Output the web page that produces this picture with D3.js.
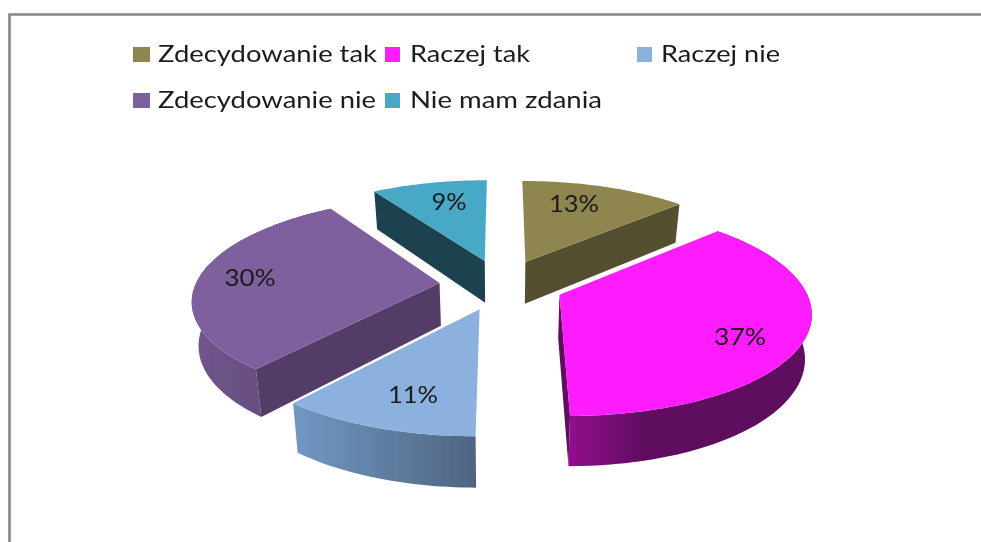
<!DOCTYPE html>
<html lang="pl">
<head>
<meta charset="utf-8">
<title>Wykres kołowy</title>
<script src="https://cdn.jsdelivr.net/npm/d3@7/dist/d3.min.js"></script>
<style>
  html, body { margin: 0; padding: 0; background: #fff; }
  svg { display: block; }
  text { font-family: Lato, "Open Sans", sans-serif; fill: #1a1a1a; }
</style>
</head>
<body>
<div id="chart"></div>
<script>
// --- data ---
const categories = ["Zdecydowanie tak", "Raczej tak", "Raczej nie", "Zdecydowanie nie", "Nie mam zdania"];
const shares = [13, 37, 11, 30, 9];

// --- styles ---
const topColors = ["#8F8550", "#FF1CFF", "#8CB1DF", "#7F619E", "#47A9C5"];
const cutColors = ["#555030", "#5E075E", "#4F6480", "#523E66", "#1E4350"];
const wallStops = [null, ["#92108F", "#5E075E"], ["#7199C4", "#4F6480"], ["#70558C", "#5E4876"], null];
const wallSpan = [1, 0.32, 1, 1, 1];               // share of the wall's width the gradient covers
const visibleCut = [1, 1, null, 0, 0];             // which cut face the viewer sees: 0 start, 1 end
const legendPos = [[133, 158, 219, 47, 62], [385, 410, 120, 47, 62], [637, 661, 119, 47, 62],
                   [133, 158, 218, 93, 108], [385, 410, 192, 93, 108]];
const labelPos = [[574, 212, 50], [740, 345, 52], [413, 403, 50], [250, 286, 51], [449, 210, 35]];
const drawOrder = [4, 0, 1, 2, 3];

// --- projection of the tilted pie ---
const W = 981, H = 542;
const persp = 0.151, explode = 0.255;
const xScale = d3.scaleLinear().domain([0, 1]).range([501.5, 745.5]);
const yScale = d3.scaleLinear().domain([0, 1]).range([284.5, 185]);
const bottomX = d3.scaleLinear().domain([501.5, 1501.5]).range([501.5, 1479.5]);
const bottomY = d3.scaleLinear().domain([284.5, 1284.5]).range([327.5, 1382.5]);

const project = (X, Y) => {
  const w = 1 + persp * Y;
  return [xScale(X / w), yScale(Y / w)];
};
const lower = p => [bottomX(p[0]), bottomY(p[1])];

const svg = d3.select("#chart").append("svg").attr("width", W).attr("height", H).attr("viewBox", [0, 0, W, H]);
const defs = svg.append("defs");
const line = d3.line();

defs.append("filter").attr("id", "soft").attr("x", "-5%").attr("y", "-5%").attr("width", "110%").attr("height", "110%")
  .append("feGaussianBlur").attr("stdDeviation", 0.45);

// frame
svg.append("path").attr("d", `M9.5 ${H}V14.5H${W}`).attr("fill", "none").attr("stroke", "#868686").attr("stroke-width", 2.6);

const content = svg.append("g").attr("filter", "url(#soft)");

// legend
const legend = content.append("g");
categories.forEach((c, i) => {
  const [sx, tx, tw, sy, by] = legendPos[i];
  legend.append("rect").attr("x", sx).attr("y", sy).attr("width", i % 5 === 0 || i === 3 ? 17 : 15).attr("height", 15)
    .attr("fill", topColors[i]);
  legend.append("text").attr("x", tx).attr("y", by).attr("font-size", 23)
    .attr("textLength", tw).attr("lengthAdjust", "spacingAndGlyphs").text(c);
});

// slices
const arcs = d3.pie().sort(null).startAngle(0).endAngle(2 * Math.PI)(shares);
const pieG = content.append("g");

drawOrder.forEach(i => {
  const a = arcs[i];
  const mid = (a.startAngle + a.endAngle) / 2;
  const ax = explode * Math.sin(mid), ay = explode * Math.cos(mid);
  const apex = project(ax, ay);
  const n = Math.max(12, Math.round((a.endAngle - a.startAngle) * 40));
  const rim = d3.range(n + 1).map(k => {
    const t = a.startAngle + (a.endAngle - a.startAngle) * k / n;
    return project(ax + Math.sin(t), ay + Math.cos(t));
  });
  const rimLow = rim.map(lower);
  const g = pieG.append("g");

  // visible cut face
  if (visibleCut[i] !== null) {
    const p = visibleCut[i] === 0 ? rim[0] : rim[n];
    g.append("path").attr("d", line([apex, p, lower(p), lower(apex)]) + "Z").attr("fill", cutColors[i]);
  }

  // outer wall (only on the slices that face the viewer)
  if (wallStops[i]) {
    const xs = d3.extent(rim.concat(rimLow), p => p[0]);
    const gid = "wall" + i;
    const grad = defs.append("linearGradient").attr("id", gid).attr("gradientUnits", "userSpaceOnUse")
      .attr("x1", xs[0]).attr("x2", xs[0] + (xs[1] - xs[0]) * wallSpan[i]).attr("y1", 0).attr("y2", 0);
    grad.append("stop").attr("offset", 0).attr("stop-color", wallStops[i][0]);
    grad.append("stop").attr("offset", 1).attr("stop-color", wallStops[i][1]);
    g.append("path").attr("d", line(rim.concat(rimLow.slice().reverse())) + "Z").attr("fill", `url(#${gid})`);
  }

  // top face
  g.append("path").attr("d", line([apex].concat(rim)) + "Z").attr("fill", topColors[i]);
});

// value labels
const fmt = d3.format("d");
shares.forEach((v, i) => {
  content.append("text").attr("x", labelPos[i][0]).attr("y", labelPos[i][1])
    .attr("text-anchor", "middle").attr("font-size", 24)
    .attr("textLength", labelPos[i][2]).attr("lengthAdjust", "spacingAndGlyphs").text(fmt(v) + "%");
});
</script>
</body>
</html>
